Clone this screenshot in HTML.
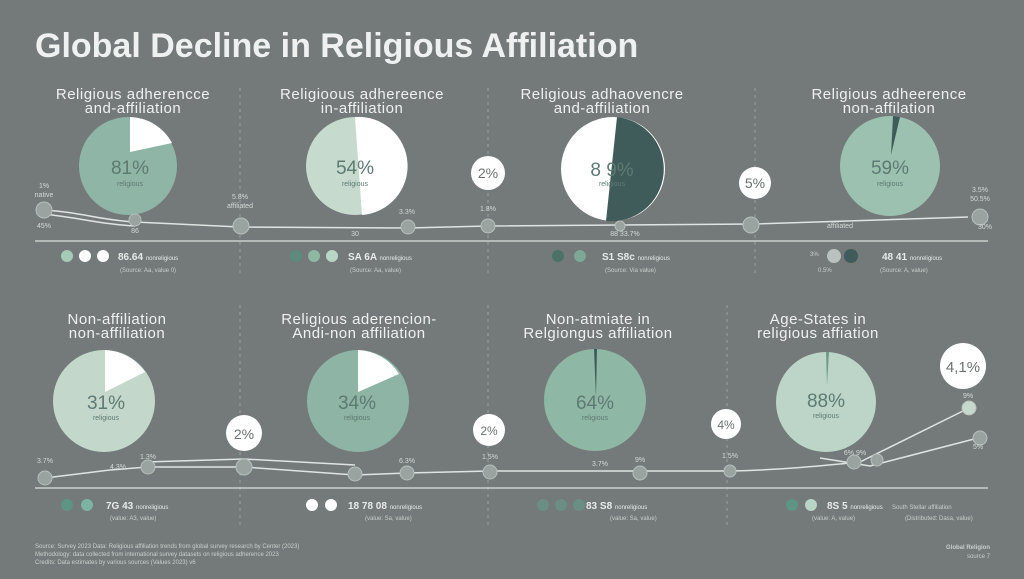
<!DOCTYPE html>
<html><head><meta charset="utf-8"><style>
html,body{margin:0;padding:0;background:#737a79;}
svg{display:block;font-family:"Liberation Sans",sans-serif;}
</style></head><body>
<svg width="1024" height="579" viewBox="0 0 1024 579" xmlns="http://www.w3.org/2000/svg">
<rect width="1024" height="579" fill="#737a79"/>
<text x="35" y="57" font-size="34" font-weight="bold" fill="#eef1ef">Global Decline in Religious Affiliation</text>

<g stroke="#9aa3a1" stroke-dasharray="3,4" stroke-width="1">
<line x1="240" y1="88" x2="240" y2="276"/><line x1="488" y1="88" x2="488" y2="276"/><line x1="755" y1="88" x2="755" y2="276"/>
<line x1="240" y1="305" x2="240" y2="525"/><line x1="488" y1="305" x2="488" y2="525"/><line x1="727" y1="305" x2="727" y2="525"/>
</g>

<g fill="#eef1ef" font-size="15" text-anchor="middle" letter-spacing="0.5">
<text x="133" y="99">Religious adherencce</text><text x="133" y="113">and-affiliation</text>
<text x="362" y="99">Religioous adhereence</text><text x="362" y="113">in-affiliation</text>
<text x="602" y="99">Religious adhaovencre</text><text x="602" y="113">and-affiliation</text>
<text x="889" y="99">Religious adheerence</text><text x="889" y="113">non-affilation</text>
<text x="117" y="324">Non-affiliation</text><text x="117" y="338">non-affiliation</text>
<text x="359" y="324">Religious aderencion-</text><text x="359" y="338">Andi-non affiliation</text>
<text x="598" y="324">Non-atmiate in</text><text x="598" y="338">Relgiongus affiliation</text>
<text x="818" y="324">Age-States in</text><text x="818" y="338">religious affiation</text>
</g>

<g fill="none" stroke="#dfe4e2" stroke-width="1.5">
<path d="M44,210 C80,212 100,220 135,222 L240,227 L408,228 L488,226 L755,224 L968,217"/>
<path d="M44,214 C80,218 100,224 135,226"/>
<path d="M45,478 L110,470 L148,467 L244,467 L355,475 L407,473 L490,471 L730,471 C780,470 820,466 860,462 L868,458 L965,410"/>
<path d="M145,462 L244,459 L355,465"/>
<path d="M820,458 L870,466 L978,438"/>
</g>
<g stroke="#c9cfcd" stroke-width="1.5"><line x1="35" y1="241" x2="988" y2="241"/><line x1="35" y1="488" x2="988" y2="488"/></g>

<circle cx="128" cy="166" r="49" fill="#8fb5a6"/>
<path d="M130,152 L130,117 A49 49 0 0 1 172,143 Z" fill="#fff"/>
<circle cx="355" cy="166" r="49" fill="#c6dbce"/>
<path d="M355,117 A49 49 0 0 1 362,215 Z" fill="#fff"/>
<circle cx="613" cy="169" r="52" fill="#fff"/>
<path d="M617,117 A52 52 0 0 1 606,221 Z" fill="#3f5c5a"/>
<circle cx="890" cy="166" r="50" fill="#9cc1b1"/>
<path d="M893,116 L900,117 L891,155 Z" fill="#3f5c5a"/>
<circle cx="104" cy="401" r="51" fill="#c3d8cb"/>
<path d="M105,392 L105,350 A51 51 0 0 1 145,372 Z" fill="#fff"/>
<circle cx="358" cy="401" r="51" fill="#8db4a4"/>
<path d="M358,392 L358,350 A51 51 0 0 1 399,374 Z" fill="#fff"/>
<circle cx="595" cy="400" r="51" fill="#8fb7a6"/>
<path d="M594,349 L597,349 L596,398 Z" fill="#3f5c5a"/>
<circle cx="826" cy="402" r="50" fill="#bcd5c8"/>
<path d="M826,352 L829,352 L827,385 Z" fill="#6e9a8a"/>

<g fill="#5d7a73" text-anchor="middle">
<text x="130" y="174" font-size="19">81%</text><text x="130" y="186" font-size="7">religious</text>
<text x="355" y="174" font-size="19">54%</text><text x="355" y="186" font-size="7">religious</text>
<text x="612" y="176" font-size="19">8 9%</text><text x="612" y="186" font-size="7">religious</text>
<text x="890" y="174" font-size="19">59%</text><text x="890" y="186" font-size="7">religious</text>
<text x="106" y="409" font-size="19">31%</text><text x="106" y="420" font-size="7">religious</text>
<text x="357" y="409" font-size="19">34%</text><text x="357" y="420" font-size="7">religious</text>
<text x="595" y="409" font-size="19">64%</text><text x="595" y="420" font-size="7">religious</text>
<text x="826" y="407" font-size="19">88%</text><text x="826" y="418" font-size="7">religious</text>
</g>

<g fill="#fff"><circle cx="488" cy="173" r="17"/><circle cx="755" cy="183" r="16"/><circle cx="244" cy="433" r="18"/><circle cx="489" cy="430" r="16"/><circle cx="726" cy="424" r="15"/><circle cx="963" cy="366" r="23"/></g>
<g fill="#6a716f" text-anchor="middle" font-size="14">
<text x="488" y="178">2%</text><text x="755" y="188">5%</text><text x="244" y="439">2%</text><text x="489" y="435" font-size="12">2%</text><text x="726" y="429" font-size="12">4%</text><text x="963" y="372" font-size="15">4,1%</text>
</g>

<g fill="#9aa39f" stroke="#b7bfbc" stroke-width="1">
<circle cx="44" cy="210" r="8"/><circle cx="135" cy="220" r="6"/><circle cx="241" cy="226" r="8"/><circle cx="408" cy="227" r="7"/><circle cx="488" cy="226" r="7"/><circle cx="620" cy="226" r="5"/><circle cx="751" cy="225" r="8"/><circle cx="980" cy="217" r="8"/>
<circle cx="45" cy="478" r="7"/><circle cx="148" cy="467" r="7"/><circle cx="244" cy="467" r="8"/><circle cx="355" cy="474" r="7"/><circle cx="407" cy="473" r="7"/><circle cx="490" cy="472" r="7"/><circle cx="640" cy="473" r="7"/><circle cx="730" cy="471" r="6"/><circle cx="854" cy="462" r="7"/><circle cx="877" cy="460" r="6"/><circle cx="969" cy="408" r="7" fill="#c7d9cf"/><circle cx="980" cy="438" r="7"/>
</g>
<g fill="#d3d9d6" font-size="7" text-anchor="middle">
<text x="44" y="188">1%</text><text x="44" y="197">native</text><text x="44" y="228">45%</text><text x="135" y="233">86</text><text x="240" y="199">5.8%</text><text x="240" y="208">affiliated</text>
<text x="407" y="214">3.3%</text><text x="355" y="236">30</text><text x="488" y="211">1.8%</text><text x="625" y="236">88 33.7%</text>
<text x="980" y="192">3.5%</text><text x="980" y="201">50.5%</text><text x="985" y="229">30%</text><text x="840" y="228">affiliated</text>
<text x="45" y="463">3.7%</text><text x="118" y="469">4.3%</text><text x="148" y="459">1.3%</text><text x="407" y="463">6.3%</text><text x="490" y="459">1.5%</text><text x="600" y="466">3.7%</text><text x="640" y="462">9%</text><text x="730" y="458">1.5%</text><text x="855" y="455">6%  9%</text><text x="968" y="398">9%</text><text x="978" y="449">5%</text>
</g>

<g>
<circle cx="67" cy="256" r="6" fill="#a6c9b9"/><circle cx="85" cy="256" r="6" fill="#fff"/><circle cx="103" cy="256" r="6" fill="#fff"/>
<circle cx="296" cy="256" r="6" fill="#5d8a7d"/><circle cx="314" cy="256" r="6" fill="#8fb7a6"/><circle cx="332" cy="256" r="6" fill="#b9d5c8"/>
<circle cx="558" cy="256" r="6" fill="#4c7268"/><circle cx="580" cy="256" r="6" fill="#7da796"/>
<circle cx="834" cy="256" r="7" fill="#b9c2bf"/><circle cx="851" cy="256" r="7" fill="#3f5c5a"/>
<circle cx="67" cy="505" r="6" fill="#5d9483"/><circle cx="87" cy="505" r="6" fill="#7db3a3"/>
<circle cx="312" cy="505" r="6" fill="#fff"/><circle cx="331" cy="505" r="6" fill="#fff"/>
<circle cx="543" cy="505" r="6" fill="#6a8e84"/><circle cx="561" cy="505" r="6" fill="#6a8e84"/><circle cx="579" cy="505" r="6" fill="#6a8e84"/>
<circle cx="792" cy="505" r="6" fill="#5d9483"/><circle cx="811" cy="505" r="6" fill="#b9d5c8"/>
</g>
<g fill="#e6ebe9" font-size="10" font-weight="bold">
<text x="118" y="260">86.64 <tspan font-size="6" font-weight="normal">nonreligious</tspan></text>
<text x="348" y="260">SA 6A <tspan font-size="6" font-weight="normal">nonreligious</tspan></text>
<text x="602" y="260">S1 S8c <tspan font-size="6" font-weight="normal">nonreligious</tspan></text>
<text x="882" y="260">48 41 <tspan font-size="6" font-weight="normal">nonreligious</tspan></text>
<text x="106" y="509">7G 43 <tspan font-size="6" font-weight="normal">nonreligious</tspan></text>
<text x="348" y="509">18 78 08 <tspan font-size="6" font-weight="normal">nonreligious</tspan></text>
<text x="586" y="509">83 S8 <tspan font-size="6" font-weight="normal">nonreligious</tspan></text>
<text x="827" y="509">8S 5 <tspan font-size="6" font-weight="normal">nonreligious</tspan></text>
</g>
<g fill="#c8cfcc" font-size="6">
<text x="120" y="272">(Source: Aa, value 0)</text><text x="350" y="272">(Source: Aa, value)</text><text x="605" y="272">(Source: Via value)</text><text x="880" y="272">(Source: A, value)</text><text x="810" y="256">3%</text><text x="818" y="272">0.5%</text>
<text x="110" y="520">(value: A3, value)</text><text x="365" y="520">(value: Sa, value)</text><text x="610" y="520">(value: Sa, value)</text><text x="812" y="520">(value: A, value)</text>
<text x="892" y="509">South Stellar affiliation</text><text x="905" y="520">(Distributed: Dasa, value)</text>
<text x="35" y="548">Source: Survey 2023 Data: Religious affiliation trends from global survey research by Center (2023)</text>
<text x="35" y="556">Methodology: data collected from international survey datasets on religious adherence 2023</text>
<text x="35" y="564">Credits: Data estimates by various sources (Values 2023) v6</text>
<text x="990" y="549" text-anchor="end" font-weight="bold">Global Religion</text>
<text x="990" y="558" text-anchor="end">source 7</text>
</g>
</svg>
</body></html>
